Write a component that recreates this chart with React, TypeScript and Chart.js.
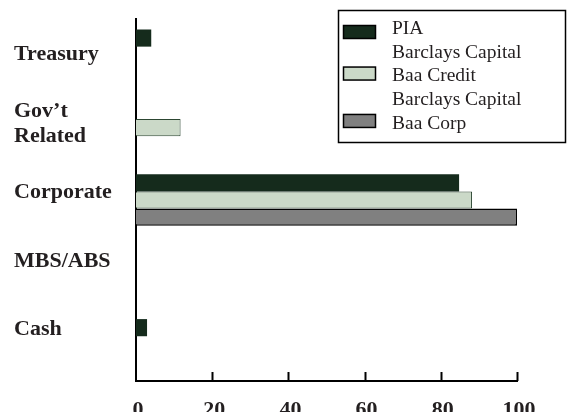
import React, { useEffect, useRef } from "react";
import { Chart, registerables } from "chart.js";

Chart.register(...registerables);

const categoryLabels = ["Treasury", "Gov\u2019t\nRelated", "Corporate", "MBS/ABS", "Cash"];
const seriesNames = ["PIA", "Barclays Capital\nBaa Credit", "Barclays Capital\nBaa Corp"];
const piaValues = [4.0, 0, 84.8, 0, 2.9];
const baaCreditValues = [0, 11.7, 88.2, 0, 0];
const baaCorpValues = [0, 0, 100, 0, 0];
const xTickMin = 0;
const xTickMax = 100;
const xTickStep = 20;

const TEXT = "#231f20";
const SERIF = "'Liberation Serif', 'Times New Roman', serif";

const inwardTicks = {
  id: "inwardTicks",
  afterDatasetsDraw(chart: any) {
    const { ctx, chartArea, scales } = chart;
    const x = scales.x;
    ctx.save();
    ctx.strokeStyle = "#000";
    ctx.lineWidth = 2;
    x.ticks.forEach((t: any) => {
      if (t.value === xTickMin) return;
      const px = Math.round(x.getPixelForValue(t.value)) + 0.5;
      ctx.beginPath();
      ctx.moveTo(px, chartArea.bottom);
      ctx.lineTo(px, chartArea.bottom - 9);
      ctx.stroke();
    });
    ctx.restore();
  },
};

// Category labels drawn against the y scale, slightly compressed toward the middle as in the source
const categoryText = {
  id: "categoryText",
  afterDraw(chart: any) {
    const { ctx, scales } = chart;
    const y = scales.y;
    const labels: any[] = chart.data.labels;
    const mid = (labels.length - 1) / 2;
    const spread = 0.95;
    const shift = -7.8;
    const lineH = 25;
    ctx.save();
    ctx.font = `bold 22px ${SERIF}`;
    ctx.fillStyle = TEXT;
    ctx.textAlign = "left";
    ctx.textBaseline = "middle";
    labels.forEach((lab: any, i: number) => {
      const lines = Array.isArray(lab) ? lab : [lab];
      const cy = y.getPixelForValue(mid + (i - mid) * spread) + shift;
      const start = cy - ((lines.length - 1) * lineH) / 2;
      lines.forEach((ln: string, k: number) => {
        ctx.fillText(ln, y.left, start + k * lineH);
      });
    });
    ctx.restore();
  },
};

const boxLegend = {
  id: "boxLegend",
  afterDraw(chart: any) {
    const { ctx } = chart;
    ctx.save();
    ctx.strokeStyle = "#000";
    ctx.lineWidth = 1.5;
    ctx.strokeRect(338.5, 10.5, 227, 132);
    const lineH = 23.7;
    let baseline = 34;
    ctx.font = `19.5px ${SERIF}`;
    ctx.textBaseline = "alphabetic";
    ctx.textAlign = "left";
    chart.data.datasets.forEach((ds: any) => {
      const lines = String(ds.label).split("\n");
      const first = baseline;
      const last = baseline + (lines.length - 1) * lineH;
      const mid = (first + last) / 2;
      const cy = lines.length > 1 ? mid + 4 : mid - 2;
      ctx.fillStyle = ds.backgroundColor;
      ctx.fillRect(343.5, cy - 6.5, 32, 13);
      ctx.strokeStyle = "#000";
      ctx.lineWidth = 1.5;
      ctx.strokeRect(343.5, cy - 6.5, 32, 13);
      ctx.fillStyle = TEXT;
      lines.forEach((ln, i) => {
        ctx.fillText(ln, 392, baseline + i * lineH);
      });
      baseline += lines.length * lineH;
    });
    ctx.restore();
  },
};

export default function App() {
  const ref = useRef<HTMLCanvasElement | null>(null);
  useEffect(() => {
    if (!ref.current) return;
    const chart = new Chart(ref.current, {
      type: "bar",
      data: {
        labels: categoryLabels.map((s) => s.split("\n")),
        datasets: [
          {
            label: seriesNames[0],
            data: piaValues,
            backgroundColor: "#152b1c",
            borderColor: "#152b1c",
            borderWidth: 0,
          },
          {
            label: seriesNames[1],
            data: baaCreditValues,
            backgroundColor: "#cbd9c8",
            borderColor: "#2c4632",
            borderWidth: 1,
          },
          {
            label: seriesNames[2],
            data: baaCorpValues,
            backgroundColor: "#808080",
            borderColor: "#000",
            borderWidth: 1.5,
          },
        ],
      },
      options: {
        indexAxis: "y",
        animation: false,
        responsive: false,
        layout: { padding: { left: 14, top: 19, right: 52, bottom: 0 } },
        datasets: { bar: { categoryPercentage: 0.71, barPercentage: 1.0 } },
        plugins: { legend: { display: false }, tooltip: { enabled: false } },
        scales: {
          x: {
            min: xTickMin,
            max: xTickMax,
            grid: { display: false, drawTicks: false },
            border: { display: true, color: "#000", width: 2 },
            ticks: {
              stepSize: xTickStep,
              padding: 16,
              labelOffset: 2,
              color: TEXT,
              font: { family: SERIF, size: 22, weight: "bold" },
            },
            afterFit: (s: any) => {
              s.height = 31;
            },
          },
          y: {
            grid: { display: false, drawTicks: false },
            border: { display: true, color: "#000", width: 2 },
            ticks: { display: false },
            afterFit: (s: any) => {
              s.width = 122;
            },
          },
        },
      },
      plugins: [inwardTicks, categoryText, boxLegend],
    });
    return () => chart.destroy();
  }, []);
  return (
    <div style={{ position: "absolute", left: 0, top: 0, width: 569, height: 412 }}>
      <canvas ref={ref} width={569} height={412} style={{ display: "block" }} />
    </div>
  );
}
